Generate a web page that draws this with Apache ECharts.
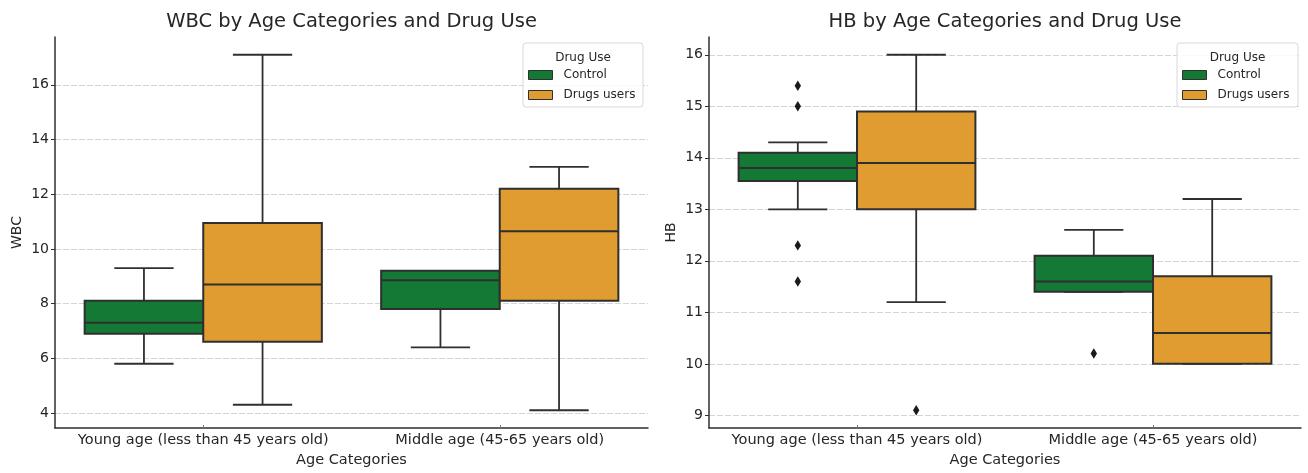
<!DOCTYPE html>
<html>
<head>
<meta charset="utf-8">
<title>WBC and HB by Age Categories and Drug Use</title>
<script src="https://cdn.jsdelivr.net/npm/echarts@6/dist/echarts.min.js"></script>
<style>
  html, body { margin: 0; padding: 0; background: #ffffff; }
  #chart { width: 1308px; height: 473px; }
</style>
</head>
<body>
<div id="chart"></div>
<script>
// Age groups on the x axis and the two drug-use groups drawn side by side
const ageCategories = ['Young age (less than 45 years old)', 'Middle age (45-65 years old)'];
const drugGroups = ['Control', 'Drugs users'];

// Five-number summaries per age group: [lower whisker, Q1, median, Q3, upper whisker]
const wbcControl = [[5.8, 6.9, 7.3, 8.1, 9.3], [6.4, 7.8, 8.85, 9.2, 9.2]];
const wbcDrugUsers = [[4.3, 6.6, 8.7, 10.95, 17.1], [4.1, 8.1, 10.65, 12.2, 13.0]];
const hbControl = [[13.0, 13.55, 13.8, 14.1, 14.3], [11.4, 11.4, 11.6, 12.1, 12.6]];
const hbDrugUsers = [[11.2, 13.0, 13.9, 14.9, 16.0], [10.0, 10.0, 10.6, 11.7, 13.2]];

// Outlying points: [age group index, value]
const wbcControlOutliers = [];
const wbcDrugUserOutliers = [];
const hbControlOutliers = [[0, 15.4], [0, 15.0], [0, 12.3], [0, 11.6], [1, 10.2]];
const hbDrugUserOutliers = [[0, 9.1]];

// Tick values on the value axes
const wbcTicks = [4, 6, 8, 10, 12, 14, 16];
const hbTicks = [9, 10, 11, 12, 13, 14, 15, 16];

// Value-axis extents (data range plus a 5% margin)
const wbcRange = [3.45, 17.75];
const hbRange = [8.755, 16.345];

const colors = { 'Control': '#157936', 'Drugs users': '#e09c30' };
const lineColor = '#2f2f2f';
const FONT = 'DejaVu Sans';

// Dodge layout: total width 0.8 of a category band, split between the two groups
const hueOffsets = [-0.2, 0.2];
const boxRatio = 0.4;

function toRows(summaries) {
  return summaries.map((s, i) => [i].concat(s));
}

function boxRenderer(hueIndex) {
  return function (params, api) {
    const cat = api.value(0);
    const band = api.size([1, 0])[0];
    const cx = api.coord([cat, 0])[0] + hueOffsets[hueIndex] * band;
    const half = boxRatio * band / 2;
    const capHalf = half / 2;
    const y = (i) => api.coord([cat, api.value(i)])[1];
    const yMin = y(1), yQ1 = y(2), yMed = y(3), yQ3 = y(4), yMax = y(5);
    const lineStyle = { stroke: lineColor, lineWidth: 1.8 };
    return {
      type: 'group',
      children: [
        { type: 'line', shape: { x1: cx, y1: yQ3, x2: cx, y2: yMax }, style: lineStyle },
        { type: 'line', shape: { x1: cx, y1: yQ1, x2: cx, y2: yMin }, style: lineStyle },
        { type: 'line', shape: { x1: cx - capHalf, y1: yMax, x2: cx + capHalf, y2: yMax }, style: lineStyle },
        { type: 'line', shape: { x1: cx - capHalf, y1: yMin, x2: cx + capHalf, y2: yMin }, style: lineStyle },
        {
          type: 'rect',
          shape: { x: cx - half, y: yQ3, width: half * 2, height: yQ1 - yQ3 },
          style: { fill: api.visual('color'), stroke: lineColor, lineWidth: 2 }
        },
        { type: 'line', shape: { x1: cx - half, y1: yMed, x2: cx + half, y2: yMed }, style: { stroke: lineColor, lineWidth: 2 } }
      ]
    };
  };
}

function outlierRenderer(hueIndex) {
  return function (params, api) {
    const cat = api.value(0);
    const band = api.size([1, 0])[0];
    const p = api.coord([cat, api.value(1)]);
    const cx = p[0] + hueOffsets[hueIndex] * band;
    const cy = p[1];
    const w = 3.2, h = 5.2;
    return {
      type: 'polygon',
      shape: { points: [[cx, cy - h], [cx + w, cy], [cx, cy + h], [cx - w, cy]] },
      style: { fill: '#1a1a1a' }
    };
  };
}

function boxSeries(name, summaries, gridIndex, hueIndex) {
  return {
    type: 'custom',
    name: name,
    xAxisIndex: gridIndex,
    yAxisIndex: gridIndex,
    itemStyle: { color: colors[name], borderColor: lineColor, borderWidth: 1 },
    encode: { x: 0, y: [1, 2, 3, 4, 5] },
    data: toRows(summaries),
    renderItem: boxRenderer(hueIndex),
    z: 3
  };
}

function outlierSeries(name, points, gridIndex, hueIndex) {
  return {
    type: 'custom',
    name: name,
    xAxisIndex: gridIndex,
    yAxisIndex: gridIndex,
    encode: { x: 0, y: 1 },
    data: points,
    renderItem: outlierRenderer(hueIndex),
    z: 4
  };
}

function xAxis(gridIndex) {
  return {
    type: 'category',
    gridIndex: gridIndex,
    data: ageCategories,
    name: 'Age Categories',
    nameLocation: 'middle',
    nameGap: 25,
    nameTextStyle: { fontFamily: FONT, fontSize: 14.5, color: '#262626' },
    axisLine: { lineStyle: { color: lineColor, width: 1.5 } },
    axisTick: { show: true, inside: true, length: 3, alignWithLabel: true, lineStyle: { color: '#777' } },
    axisLabel: { interval: 0, hideOverlap: false, fontFamily: FONT, fontSize: 14.5, color: '#262626', margin: 5 },
    splitLine: { show: false }
  };
}

function yAxis(gridIndex, name, range, ticks, splitNumber) {
  return {
    type: 'value',
    gridIndex: gridIndex,
    min: range[0],
    max: range[1],
    splitNumber: splitNumber,
    name: name,
    nameLocation: 'middle',
    nameGap: 31,
    nameTextStyle: { fontFamily: FONT, fontSize: 14, color: '#262626' },
    axisLine: { show: true, lineStyle: { color: lineColor, width: 1.5 } },
    axisTick: { show: true, length: 4, customValues: ticks, lineStyle: { color: lineColor } },
    axisLabel: {
      fontFamily: FONT, fontSize: 14, color: '#262626', margin: 6,
      customValues: ticks
    },
    splitLine: {
      show: true,
      lineStyle: { color: '#d6d3d3', width: 1, type: [6, 2] }
    }
  };
}

function legendFrame(x, y, w, h) {
  return [
    {
      type: 'rect', z: 10,
      shape: { x: x, y: y, width: w, height: h, r: 3 },
      style: { fill: 'rgba(255,255,255,0.85)', stroke: '#d8d8d8', lineWidth: 1 }
    },
    {
      type: 'text', z: 11,
      x: x + w / 2, y: y + 15,
      style: { text: 'Drug Use', fontFamily: FONT, fontSize: 12, fill: '#262626', align: 'center', verticalAlign: 'middle' }
    }
  ];
}

function legend(left) {
  return {
    data: drugGroups,
    orient: 'vertical',
    left: left,
    top: 69,
    padding: 0,
    itemGap: 8,
    itemWidth: 24,
    itemHeight: 9,
    icon: 'rect',
    selectedMode: false,
    z: 20,
    itemStyle: { borderColor: lineColor, borderWidth: 1 },
    textStyle: { fontFamily: FONT, fontSize: 12, color: '#262626', padding: [0, 0, 0, 6] }
  };
}

const chart = echarts.init(document.getElementById('chart'), null, { renderer: 'canvas' });

chart.setOption({
  backgroundColor: '#ffffff',
  animation: false,
  grid: [
    { left: 55, top: 37, width: 593, height: 393 },
    { left: 709, top: 37, width: 592, height: 394 }
  ],
  xAxis: [xAxis(0), xAxis(1)],
  yAxis: [
    yAxis(0, 'WBC', wbcRange, wbcTicks, 7),
    yAxis(1, 'HB', hbRange, hbTicks, 7)
  ],
  legend: [legend(528), legend(1182)],
  graphic: [
    {
      type: 'text', x: 351.5, y: 22,
      style: { text: 'WBC by Age Categories and Drug Use', fontFamily: FONT, fontSize: 19.5, fill: '#262626', align: 'center', verticalAlign: 'middle' }
    },
    {
      type: 'text', x: 1005, y: 22,
      style: { text: 'HB by Age Categories and Drug Use', fontFamily: FONT, fontSize: 19.5, fill: '#262626', align: 'center', verticalAlign: 'middle' }
    }
  ].concat(legendFrame(523, 43, 120, 64), legendFrame(1177, 43, 121, 64)),
  series: [
    boxSeries('Control', wbcControl, 0, 0),
    boxSeries('Drugs users', wbcDrugUsers, 0, 1),
    outlierSeries('WBC control outliers', wbcControlOutliers, 0, 0),
    outlierSeries('WBC drug user outliers', wbcDrugUserOutliers, 0, 1),
    boxSeries('Control', hbControl, 1, 0),
    boxSeries('Drugs users', hbDrugUsers, 1, 1),
    outlierSeries('HB control outliers', hbControlOutliers, 1, 0),
    outlierSeries('HB drug user outliers', hbDrugUserOutliers, 1, 1)
  ]
});
</script>
</body>
</html>
